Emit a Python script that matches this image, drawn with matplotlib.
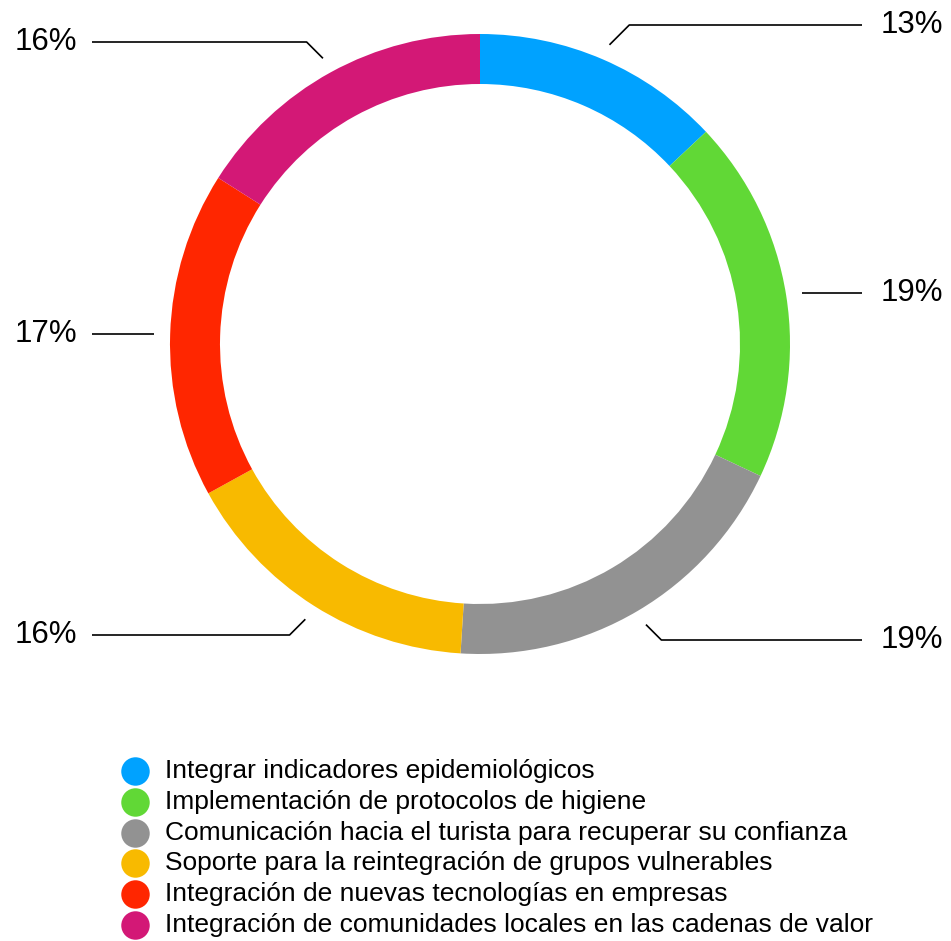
import numpy as np
import matplotlib
matplotlib.use("Agg")
import matplotlib.pyplot as plt

categories = [
    "Integrar indicadores epidemiológicos",
    "Implementación de protocolos de higiene",
    "Comunicación hacia el turista para recuperar su confianza",
    "Soporte para la reintegración de grupos vulnerables",
    "Integración de nuevas tecnologías en empresas",
    "Integración de comunidades locales en las cadenas de valor",
]
values = [13, 19, 19, 16, 17, 16]
labels = ["13%", "19%", "19%", "16%", "17%", "16%"]
colors = ["#00A2FF", "#61D836", "#929292", "#F8BA00", "#FF2600", "#D31876"]

W, H = 951, 941
plt.rcParams['font.family'] = ['Liberation Sans', 'DejaVu Sans']
fig = plt.figure(figsize=(W / 100, H / 100), dpi=100)
ax = fig.add_axes([0, 0, 1, 1])

cx, cy = 480, H - 344
R = 310
ax.pie(values, colors=colors, startangle=90, counterclock=False,
       center=(cx, cy), radius=R, frame=True,
       wedgeprops=dict(width=50, linewidth=0))
ax.set_xlim(0, W)
ax.set_ylim(0, H)
ax.set_aspect('equal')
ax.axis('off')

# label leader lines (layout: elbow y in pixels, text side)
elbow_y = [25, None, 640, 635, None, 42]
side = [1, 1, 1, -1, -1, -1]
total = sum(values)
cum = np.cumsum([0] + values)
for i, v in enumerate(values):
    mid = (cum[i] + v / 2) / total * 360.0
    a = np.deg2rad(mid)
    r0 = R + 16
    x0 = cx + r0 * np.sin(a)
    y0pix = 344 - r0 * np.cos(a)
    if elbow_y[i] is None:
        ey = y0pix
        xs = [x0]
        ys = [ey]
    else:
        ey = elbow_y[i]
        dy = abs(ey - y0pix)
        xs = [x0, x0 + side[i] * dy]
        ys = [y0pix, ey]
    xend = 862 if side[i] > 0 else 92
    xs.append(xend)
    ys.append(ey)
    ax.plot(xs, [H - y for y in ys], color='black', lw=1.2, solid_capstyle='butt')
    if side[i] > 0:
        ax.text(881, H - ey, labels[i], fontsize=22.5, ha='left', va='center')
    else:
        ax.text(77, H - ey, labels[i], fontsize=22.5, ha='right', va='center')

# legend
for i, cat in enumerate(categories):
    y = H - (771 + i * 30.8)
    ax.scatter([135], [y], s=420, color=colors[i], linewidths=0)
    ax.text(165, y, cat, fontsize=19, ha='left', va='center')

fig.savefig("out.png", dpi=100)
